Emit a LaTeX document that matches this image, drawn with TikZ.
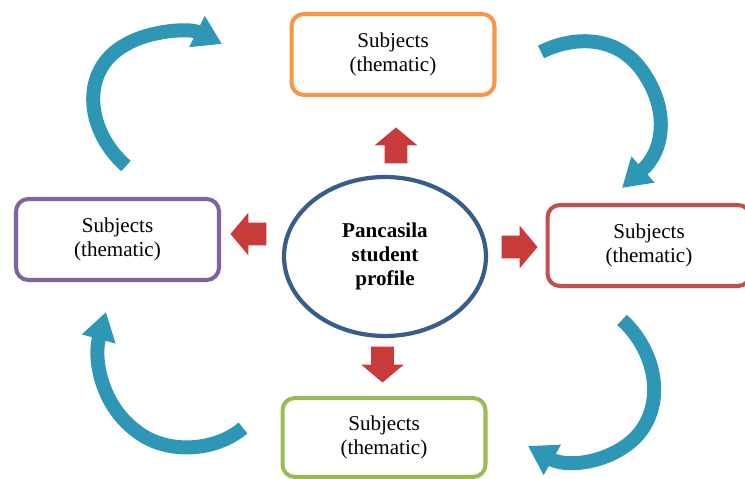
\documentclass[tikz,border=0pt]{standalone}
\usepackage{fontspec}
\setmainfont{Liberation Serif}
\usetikzlibrary{arrows.meta,shapes.arrows,shapes.geometric}

\begin{document}
\begin{tikzpicture}[
    x=0.02cm,
    y=-0.02cm,
    line cap=round,
    line join=round,
    every node/.style={font=\fontsize{12}{14}\selectfont},
]
\definecolor{spOrange}{HTML}{F79646}
\definecolor{spPurple}{HTML}{8064A2}
\definecolor{spRed}{HTML}{C0504D}
\definecolor{spGreen}{HTML}{9BBB59}
\definecolor{spBlue}{HTML}{385D8A}
\definecolor{spTeal}{HTML}{2E97B6}
\definecolor{spPush}{HTML}{C93A3B}

\tikzset{
    subjectbox/.style={draw=#1,line width=2.3pt,rounded corners=7pt,fill=white,align=center,
        minimum width=4.06cm,minimum height=1.62cm,inner sep=0pt},
    profile/.style={ellipse,draw=spBlue,line width=2.4pt,align=center,font=\fontsize{12}{13.6}\selectfont\bfseries,
        minimum width=4.04cm,minimum height=3.18cm,inner sep=0pt},
    pusharrow/.style={single arrow,fill=spPush,draw=none,anchor=tip,minimum height=0.72cm,
        single arrow head extend=0.2cm,single arrow tip angle=100,
        single arrow head indent=0pt,shape border rotate=#1},
    pushv/.style={pusharrow=#1,inner xsep=0.22cm,inner ysep=0.17cm},
    pushh/.style={pusharrow=#1,inner xsep=0.17cm,inner ysep=0.22cm},
    cyclearrow/.style={draw=spTeal,line width=0.28cm,line cap=butt,
        -{Triangle[width=0.66cm,length=0.56cm]}},
}

\useasboundingbox (0,0) rectangle (745,479);
\clip (0,0) rectangle (745,479);

\node[subjectbox=spOrange] (top) at (393,54.5) {Subjects\\(thematic)};
\node[subjectbox=spPurple] (left) at (117.5,239.5) {Subjects\\(thematic)};
\node[subjectbox=spRed] (right) at (649,245.5) {Subjects\\(thematic)};
\node[subjectbox=spGreen,minimum height=1.58cm] (bottom) at (384,437.5) {Subjects\\(thematic)};

\node[profile] (profile) at (385,256.5) {Pancasila\\student\\profile};

\node[pushv=90] (pushUp) at (396,127) {};
\node[pushh=180] (pushLeft) at (230,234) {};
\node[pushh=0] (pushRight) at (538,247) {};
\node[pushv=270] (pushDown) at (382.5,383) {};

\coordinate (leftTail) at (126,166);
\coordinate (topHead) at (222,44);
\coordinate (topTail) at (541,52);
\coordinate (rightHead) at (622,188);
\coordinate (rightTail) at (622,320);
\coordinate (bottomHead) at (528,446);
\coordinate (bottomTail) at (243,428);
\coordinate (leftHead) at (106,312);

\draw[cyclearrow] (leftTail) .. controls (85,130) and (80,70) .. (125,45)
    .. controls (150,30) and (190,28) .. (topHead);
\draw[cyclearrow] (topTail) .. controls (575,35) and (620,35) .. (645,75)
    .. controls (668,110) and (665,150) .. (rightHead);
\draw[cyclearrow] (rightTail) .. controls (650,345) and (665,390) .. (645,425)
    .. controls (625,460) and (570,470) .. (bottomHead);
\draw[cyclearrow] (bottomTail) .. controls (215,452) and (165,455) .. (135,430)
    .. controls (102,405) and (93,360) .. (leftHead);
\end{tikzpicture}
\end{document}
